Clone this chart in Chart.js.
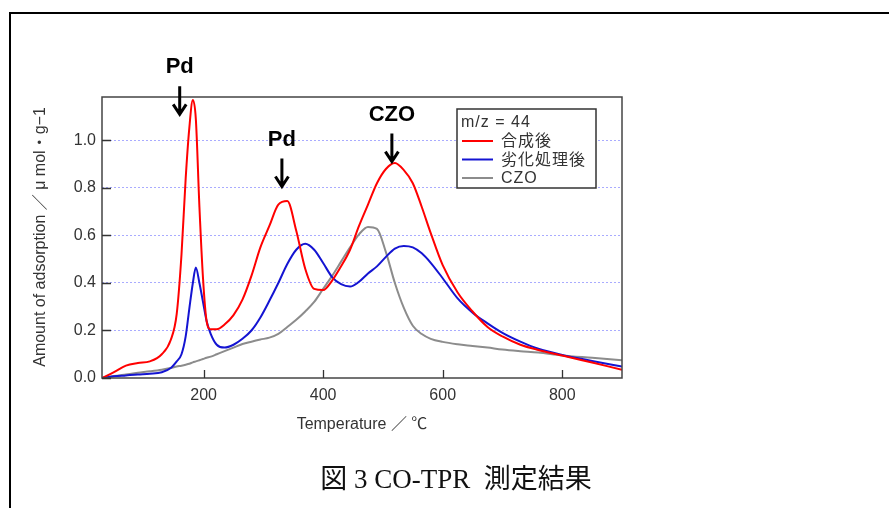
<!DOCTYPE html>
<html>
<head>
<meta charset="utf-8">
<script src="https://cdn.jsdelivr.net/npm/chart.js@4.4.0/dist/chart.umd.min.js"></script>
<style>
  html, body { margin: 0; padding: 0; background: #fff; }
  canvas { display: block; }
</style>
</head>
<body>
<canvas id="tpr" width="889" height="508"></canvas>
<script>
// temperatures (deg C) shared by all three traces
const temps = [30, 50, 70, 90, 110, 130, 145, 155, 163, 170, 176, 182, 187, 193, 199, 205, 212, 222, 235, 250,
  265, 280, 295, 310, 325, 340, 355, 370, 385, 400, 415, 430, 445, 460, 475, 490, 505, 520, 535, 550,
  565, 580, 600, 625, 650, 675, 700, 730, 760, 800, 850, 900];

// 合成後 (as synthesized)
const synthesized = [0.0, 0.025, 0.052, 0.063, 0.07, 0.10, 0.16, 0.27, 0.52, 0.84, 1.05, 1.17, 1.09, 0.72, 0.42, 0.24, 0.205, 0.205, 0.225, 0.265,
  0.33, 0.43, 0.55, 0.64, 0.73, 0.745, 0.62, 0.46, 0.375, 0.37, 0.41, 0.47, 0.54, 0.64, 0.73, 0.82, 0.88, 0.905, 0.875, 0.82,
  0.72, 0.61, 0.475, 0.36, 0.28, 0.215, 0.175, 0.14, 0.118, 0.095, 0.065, 0.035];

// 劣化処理後 (after aging)
const aged = [0.0, 0.007, 0.011, 0.015, 0.018, 0.024, 0.042, 0.07, 0.10, 0.175, 0.29, 0.40, 0.465, 0.40, 0.32, 0.24, 0.185, 0.14, 0.128, 0.14,
  0.165, 0.20, 0.255, 0.325, 0.40, 0.48, 0.54, 0.565, 0.54, 0.484, 0.425, 0.395, 0.385, 0.405, 0.44, 0.47, 0.51, 0.545, 0.556, 0.55,
  0.525, 0.485, 0.42, 0.335, 0.275, 0.23, 0.19, 0.153, 0.123, 0.097, 0.072, 0.048];

// CZO
const czo = [0.0, 0.008, 0.015, 0.022, 0.028, 0.035, 0.042, 0.048, 0.052, 0.056, 0.06, 0.066, 0.07, 0.075, 0.08, 0.085, 0.09, 0.10, 0.113, 0.128,
  0.143, 0.153, 0.162, 0.17, 0.186, 0.215, 0.245, 0.28, 0.32, 0.375, 0.43, 0.49, 0.55, 0.605, 0.636, 0.628, 0.53, 0.40, 0.295, 0.22,
  0.185, 0.165, 0.152, 0.142, 0.135, 0.128, 0.12, 0.113, 0.107, 0.095, 0.085, 0.075];

const seriesLabels = ['合成後', '劣化処理後', 'CZO'];
const seriesColors = ['#ff0000', '#1414d2', '#8c8c8c'];
const xTicks = [200, 400, 600, 800];
const yTicks = [0, 0.2, 0.4, 0.6, 0.8, 1.0];
const legendTitle = 'm/z = 44';

// peak markers: label, temperature and value the arrow tip points at
const peakTexts = ['Pd', 'Pd', 'CZO'];
const peakTemps = [160, 331, 515];
const peakValues = [1.11, 0.806, 0.911];

const TEXT = '#333333';
const SANS = '"Liberation Sans", Arial, "Noto Sans CJK JP", sans-serif';

const toPoints = (vals) => temps.map((t, i) => ({ x: t, y: vals[i] }));

const decorations = {
  id: 'decorations',
  beforeDraw(chart) {
    const ctx = chart.ctx;
    ctx.save();
    ctx.fillStyle = '#fff';
    ctx.fillRect(0, 0, chart.width, chart.height);
    // page frame
    ctx.strokeStyle = '#000';
    ctx.lineWidth = 2;
    ctx.beginPath();
    ctx.moveTo(10, chart.height + 5);
    ctx.lineTo(10, 13);
    ctx.lineTo(chart.width + 5, 13);
    ctx.stroke();
    ctx.restore();
  },
  afterDatasetsDraw(chart) {
    const { ctx, chartArea: a, scales } = chart;
    ctx.save();
    // plot frame
    ctx.strokeStyle = '#444';
    ctx.lineWidth = 1.5;
    ctx.strokeRect(a.left, a.top, a.right - a.left, a.bottom - a.top);

    // inward tick marks
    ctx.lineWidth = 1.3;
    ctx.strokeStyle = '#333';
    ctx.beginPath();
    xTicks.forEach(v => {
      const px = Math.round(scales.x.getPixelForValue(v)) + 0.5;
      ctx.moveTo(px, a.bottom);
      ctx.lineTo(px, a.bottom - 8);
    });
    yTicks.forEach(v => {
      const py = Math.round(scales.y.getPixelForValue(v)) + 0.5;
      ctx.moveTo(a.left, py);
      ctx.lineTo(a.left + 9, py);
    });
    ctx.stroke();

    // legend box
    const bx = a.right - 165, by = a.top + 12, bw = 139, bh = 79;
    ctx.fillStyle = '#fff';
    ctx.fillRect(bx, by, bw, bh);
    ctx.strokeStyle = '#333';
    ctx.lineWidth = 1.5;
    ctx.strokeRect(bx, by, bw, bh);
    ctx.fillStyle = TEXT;
    ctx.font = '16px ' + SANS;
    ctx.letterSpacing = '1px';
    ctx.textBaseline = 'middle';
    ctx.textAlign = 'left';
    ctx.fillText(legendTitle, bx + 4, by + 14);
    seriesLabels.forEach((label, i) => {
      const y = by + 32 + i * 18.5;
      ctx.strokeStyle = seriesColors[i];
      ctx.lineWidth = 2;
      ctx.beginPath();
      ctx.moveTo(bx + 5, y);
      ctx.lineTo(bx + 36, y);
      ctx.stroke();
      ctx.fillStyle = TEXT;
      ctx.fillText(label, bx + 44, y + 1);
    });
    ctx.letterSpacing = '0px';

    // peak arrows
    ctx.strokeStyle = '#000';
    ctx.fillStyle = '#000';
    ctx.lineWidth = 3;
    ctx.font = 'bold 22px ' + SANS;
    ctx.textAlign = 'center';
    peakTexts.forEach((txt, i) => {
      const x = scales.x.getPixelForValue(peakTemps[i]);
      const tip = scales.y.getPixelForValue(peakValues[i]);
      const top = tip - 28;
      ctx.beginPath();
      ctx.moveTo(x, top);
      ctx.lineTo(x, tip);
      ctx.moveTo(x - 6.5, tip - 10);
      ctx.lineTo(x, tip);
      ctx.lineTo(x + 6.5, tip - 10);
      ctx.stroke();
      ctx.fillText(txt, x, top - 19);
    });
    ctx.restore();
  },
  afterDraw(chart) {
    const { ctx, chartArea: a } = chart;
    ctx.save();
    ctx.fillStyle = TEXT;
    ctx.textAlign = 'center';
    ctx.textBaseline = 'middle';
    ctx.font = '16px ' + SANS;
    ctx.fillText('Temperature ／ ℃', (a.left + a.right) / 2, 425);
    ctx.translate(41, 237);
    ctx.rotate(-Math.PI / 2);
    ctx.fillText('Amount of adsorption ／ μ mol・g−1', 0, 0);
    ctx.restore();

    ctx.save();
    ctx.fillStyle = '#111';
    ctx.textAlign = 'center';
    ctx.textBaseline = 'middle';
    ctx.font = '27px "Liberation Serif", "Times New Roman", "Noto Sans CJK JP", serif';
    ctx.fillText('図 3 CO-TPR  測定結果', 456, 481);
    ctx.restore();
  }
};

new Chart(document.getElementById('tpr'), {
  type: 'line',
  data: {
    datasets: [synthesized, aged, czo].map((vals, i) => ({
      label: seriesLabels[i],
      data: toPoints(vals),
      borderColor: seriesColors[i],
      borderWidth: 2,
      pointRadius: 0,
      fill: false,
      cubicInterpolationMode: 'monotone'
    }))
  },
  options: {
    responsive: false,
    animation: false,
    layout: { padding: { left: 0, top: 97, right: 267, bottom: 0 } },
    plugins: { legend: { display: false }, tooltip: { enabled: false } },
    scales: {
      x: {
        type: 'linear',
        min: 30,
        max: 900,
        afterBuildTicks: s => { s.ticks = xTicks.map(v => ({ value: v })); },
        afterFit: s => { s.height = 130; },
        grid: { display: false, drawTicks: false },
        border: { display: false },
        ticks: { color: TEXT, font: { size: 16, family: SANS }, padding: 8, maxRotation: 0 }
      },
      y: {
        min: 0,
        max: 1.183,
        afterBuildTicks: s => { s.ticks = yTicks.map(v => ({ value: v })); },
        afterFit: s => { s.width = 102; },
        grid: {
          drawTicks: false,
          lineWidth: 1,
          color: c => (c.tick && c.tick.value === 0) ? 'rgba(0,0,0,0)' : '#a9abff'
        },
        border: { display: false, dash: [2, 2] },
        ticks: { color: TEXT, font: { size: 16, family: SANS }, padding: 6, callback: v => v.toFixed(1) }
      }
    }
  },
  plugins: [decorations]
});
</script>
</body>
</html>
